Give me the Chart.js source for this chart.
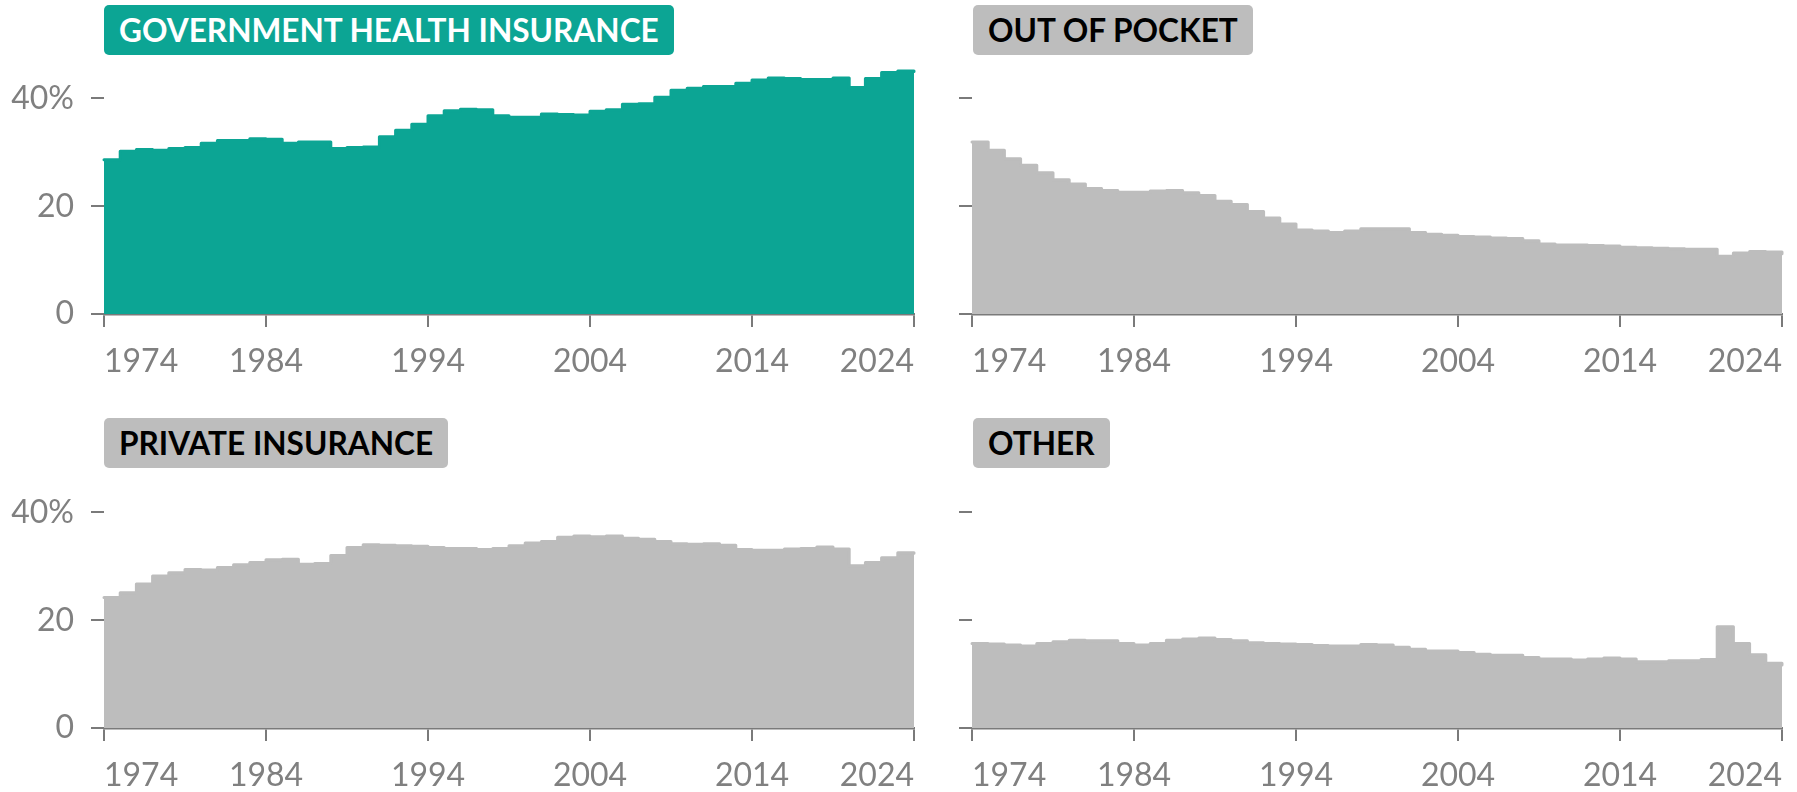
<!DOCTYPE html>
<html>
<head>
<meta charset="utf-8">
<script src="https://cdn.jsdelivr.net/npm/chart.js@4.4.1/dist/chart.umd.min.js"></script>
<style>
  html, body { margin: 0; padding: 0; background: #fff; width: 1797px; height: 792px; overflow: hidden; position: relative; font-family: Lato, sans-serif; }
  canvas { position: absolute; display: block; }
  .tag { position: absolute; height: 50px; line-height: 50px; padding: 0 15px; border-radius: 5px; font-family: Lato, sans-serif; font-weight: 700; font-size: 31.6px; white-space: nowrap; box-sizing: border-box; }
</style>
</head>
<body>
<div class="tag" style="left:104px;top:5px;background:#0ca594;color:#fff;">GOVERNMENT HEALTH INSURANCE</div>
<div class="tag" style="left:973px;top:5px;background:#bdbdbd;color:#000;">OUT OF POCKET</div>
<div class="tag" style="left:104px;top:418px;background:#bdbdbd;color:#000;">PRIVATE INSURANCE</div>
<div class="tag" style="left:973px;top:418px;background:#bdbdbd;color:#000;">OTHER</div>

<canvas id="c1" width="930" height="330" style="left:0px;top:60px;"></canvas>
<canvas id="c2" width="929" height="330" style="left:868px;top:60px;"></canvas>
<canvas id="c3" width="930" height="330" style="left:0px;top:474px;"></canvas>
<canvas id="c4" width="929" height="330" style="left:868px;top:474px;"></canvas>

<script>
// ---- data (share of health spending, %) ----
const years = [1974,1975,1976,1977,1978,1979,1980,1981,1982,1983,1984,1985,1986,1987,1988,1989,
  1990,1991,1992,1993,1994,1995,1996,1997,1998,1999,2000,2001,2002,2003,2004,2005,2006,2007,2008,2009,
  2010,2011,2012,2013,2014,2015,2016,2017,2018,2019,2020,2021,2022,2023,2024];

const government = [28.6,30.2,30.5,30.4,30.7,30.9,31.7,32.2,32.2,32.5,32.4,31.7,31.9,31.9,30.7,30.9,
  31.0,32.9,34.1,35.2,36.8,37.7,38.0,37.9,36.8,36.5,36.5,37.1,37.0,36.9,37.6,37.9,38.9,39.0,40.2,41.5,
  41.9,42.2,42.2,42.8,43.4,43.8,43.7,43.5,43.5,43.8,42.0,43.7,44.8,45.1,45.0];

const outOfPocket = [31.9,30.4,28.8,27.6,26.2,24.9,24.1,23.3,22.9,22.6,22.6,22.8,22.9,22.5,22.0,20.9,
  20.3,19.0,17.8,16.7,15.6,15.4,15.1,15.4,15.8,15.8,15.8,15.1,14.8,14.6,14.4,14.3,14.1,14.0,13.6,13.0,
  12.8,12.8,12.7,12.6,12.4,12.3,12.2,12.1,12.0,12.0,10.7,11.3,11.6,11.5,11.2];

const privateInsurance = [24.2,25.1,26.7,28.2,28.8,29.4,29.3,29.8,30.3,30.7,31.2,31.3,30.4,30.5,32.0,33.5,
  34.0,33.9,33.8,33.7,33.5,33.3,33.3,33.1,33.3,33.8,34.3,34.6,35.4,35.6,35.5,35.6,35.2,35.0,34.6,34.2,
  34.1,34.2,33.9,33.1,33.0,33.0,33.2,33.3,33.6,33.2,30.1,30.7,31.6,32.5,32.4];

const other = [15.7,15.6,15.4,15.2,15.7,16.0,16.3,16.2,16.2,15.7,15.4,15.7,16.3,16.5,16.7,16.4,
  16.2,15.8,15.7,15.6,15.5,15.3,15.2,15.2,15.5,15.4,15.0,14.6,14.3,14.3,14.0,13.7,13.5,13.5,13.1,12.8,
  12.8,12.6,12.8,13.0,12.8,12.3,12.3,12.5,12.5,12.7,18.8,15.7,13.6,12.0,11.7];

const xTicks = [1974, 1984, 1994, 2004, 2014, 2024];
const yTicks = [0, 20, 40];
const yTickLabels = ['0', '20', '40%'];

// ---- styling ----
const TEAL = '#0ca594';
const GREY = '#bdbdbd';
const AXIS = '#7a7a7a';
const LABEL = '#808080';

function makeChart(id, values, color, labelled, rightPad) {
  const pts = years.map((yr, i) => ({ x: yr, y: values[i] }));
  return new Chart(document.getElementById(id), {
    type: 'line',
    data: {
      datasets: [{
        data: pts,
        borderColor: color,
        backgroundColor: color,
        borderWidth: 3,
        borderCapStyle: 'round',
        borderJoinStyle: 'round',
        fill: 'origin',
        stepped: true,
        pointRadius: 0,
        pointHoverRadius: 0,
        clip: false
      }]
    },
    options: {
      responsive: false,
      animation: false,
      devicePixelRatio: 1,
      events: [],
      layout: { padding: { top: 11.45, right: rightPad, left: 0, bottom: 0 } },
      plugins: { legend: { display: false }, tooltip: { enabled: false }, title: { display: false } },
      scales: {
        x: {
          type: 'linear',
          min: 1974,
          max: 2024,
          afterBuildTicks: s => { s.ticks = xTicks.map(v => ({ value: v })); },
          afterFit: s => { s.height = 76; s.paddingLeft = 0; s.paddingRight = 0; s.paddingTop = 0; s.paddingBottom = 0; },
          grid: { drawOnChartArea: false, drawTicks: true, tickLength: 13, color: AXIS, lineWidth: 2 },
          border: { display: true, color: AXIS, width: 2.5 },
          ticks: {
            align: 'inner', padding: 15, color: LABEL, autoSkip: false, maxRotation: 0,
            font: { family: 'Lato', size: 32, weight: 'normal' },
            callback: v => String(v)
          }
        },
        y: {
          min: 0,
          max: 45,
          afterBuildTicks: s => { s.ticks = yTicks.map(v => ({ value: v })); },
          afterFit: s => { s.width = 104; s.paddingTop = 0; s.paddingBottom = 0; s.paddingLeft = 0; s.paddingRight = 0; },
          grid: { drawOnChartArea: false, drawTicks: true, tickLength: 13, color: AXIS, lineWidth: 2 },
          border: { display: false },
          ticks: {
            padding: 17, color: LABEL,
            font: { family: 'Lato', size: 32, weight: 'normal' },
            callback: v => labelled ? yTickLabels[yTicks.indexOf(v)] : ''
          }
        }
      }
    }
  });
}

makeChart('c1', government, TEAL, true, 16);
makeChart('c2', outOfPocket, GREY, false, 15);
makeChart('c3', privateInsurance, GREY, true, 16);
makeChart('c4', other, GREY, false, 15);
</script>
</body>
</html>
